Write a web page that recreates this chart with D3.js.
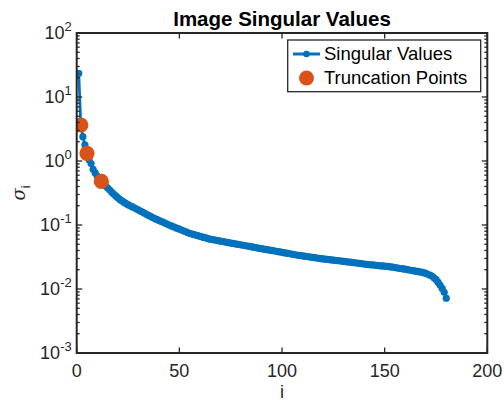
<!DOCTYPE html>
<html><head><meta charset="utf-8">
<script src="https://cdn.jsdelivr.net/npm/d3@7/dist/d3.min.js"></script>
<style>body{margin:0;background:#fff}svg{display:block}text{font-family:"Liberation Sans",Arial,sans-serif}</style>
</head><body>
<script>
const singularValues = [
23.4, 3.65, 2.4, 1.78, 1.32, 1.05, 0.91, 0.74, 0.65, 0.58,
0.52, 0.48, 0.445, 0.412, 0.382, 0.354, 0.328, 0.305, 0.285, 0.267,
0.251, 0.238, 0.227, 0.217, 0.208, 0.2, 0.193, 0.186, 0.179, 0.172,
0.165, 0.159, 0.153, 0.147, 0.141, 0.136, 0.131, 0.126, 0.122, 0.118,
0.114, 0.111, 0.107, 0.1035, 0.1, 0.097, 0.094, 0.091, 0.0885, 0.086,
0.0835, 0.081, 0.0787, 0.0763, 0.074, 0.0725, 0.071, 0.0695, 0.068, 0.0667,
0.0653, 0.064, 0.0627, 0.0614, 0.06, 0.0592, 0.0584, 0.0576, 0.0568, 0.056,
0.0552, 0.0545, 0.0537, 0.053, 0.0523, 0.0516, 0.0509, 0.0502, 0.0496, 0.049,
0.0483, 0.0477, 0.047, 0.0464, 0.0458, 0.0451, 0.0445, 0.0439, 0.0433, 0.0427,
0.0421, 0.0416, 0.041, 0.0405, 0.04, 0.0395, 0.0389, 0.0384, 0.0379, 0.0374,
0.0369, 0.0364, 0.0359, 0.0354, 0.0349, 0.0345, 0.034, 0.0336, 0.0333, 0.0329,
0.0326, 0.0322, 0.0319, 0.0315, 0.0312, 0.0309, 0.0305, 0.0302, 0.0299, 0.0295,
0.0293, 0.029, 0.0288, 0.0285, 0.0283, 0.0281, 0.0278, 0.0276, 0.0273, 0.0271,
0.0268, 0.0265, 0.0263, 0.026, 0.0258, 0.0255, 0.0253, 0.025, 0.0248, 0.0245,
0.0243, 0.0241, 0.0239, 0.0238, 0.0236, 0.0234, 0.0232, 0.023, 0.0229, 0.0227,
0.0225, 0.0224, 0.0221, 0.0219, 0.0216, 0.0214, 0.0211, 0.0209, 0.0206, 0.0204,
0.0201, 0.0198, 0.0196, 0.0193, 0.019, 0.0188, 0.0185, 0.0183, 0.018, 0.0175,
0.017, 0.0165, 0.0159, 0.015, 0.0141, 0.0128, 0.0115, 0.0102, 0.0089, 0.0072
];
const truncationIdx = [2, 5, 12];
const xTicks = [0, 50, 100, 150, 200];
const yTickExps = [-3, -2, -1, 0, 1, 2];
const legendLabels = ["Singular Values", "Truncation Points"];
const titleText = "Image Singular Values";

const W = 504, H = 403;
const m = {l: 76.7, r: 504 - 487.3, t: 33, b: 403 - 353};
const blue = "#0072BD", orange = "#D95319", axc = "#262626";

const svg = d3.select("body").append("svg").attr("width", W).attr("height", H);
const x = d3.scaleLinear().domain([0, 200]).range([m.l, W - m.r]);
const y = d3.scaleLog().domain([1e-3, 1e2]).range([H - m.b, m.t]);

const data = singularValues.map((v, i) => ({i: i + 1, v}));
const trunc = truncationIdx.map(i => ({i, v: singularValues[i - 1]}));

svg.append("defs").append("clipPath").attr("id", "clip").append("rect")
  .attr("x", m.l).attr("y", m.t).attr("width", W - m.l - m.r).attr("height", H - m.t - m.b);
const g = svg.append("g").attr("clip-path", "url(#clip)");
g.append("path").datum(data)
  .attr("d", d3.line().x(d => x(d.i)).y(d => y(d.v)))
  .attr("fill", "none").attr("stroke", blue).attr("stroke-width", 2.8).attr("stroke-linejoin", "round");
g.selectAll("circle.pt").data(data).join("circle").attr("class", "pt")
  .attr("cx", d => x(d.i)).attr("cy", d => y(d.v)).attr("r", 3.6).attr("fill", blue);
g.selectAll("circle.tr").data(trunc).join("circle").attr("class", "tr")
  .attr("cx", d => x(d.i)).attr("cy", d => y(d.v)).attr("r", 7.6).attr("fill", orange);

const fs = 18;
const axG = svg.append("g");
const ticksG = axG.append("g").attr("stroke", axc).attr("stroke-width", 1.3);
const x0 = m.l, x1 = W - m.r, y0 = H - m.b, y1 = m.t;
const majL = 5.5, minL = 3;
xTicks.forEach(t => {
  const px = x(t);
  ticksG.append("line").attr("x1", px).attr("x2", px).attr("y1", y0).attr("y2", y0 - majL);
  ticksG.append("line").attr("x1", px).attr("x2", px).attr("y1", y1).attr("y2", y1 + majL);
  axG.append("text").attr("x", px).attr("y", y0 + 24).attr("text-anchor", "middle")
    .attr("font-size", fs).attr("fill", axc).text(t);
});
yTickExps.forEach(e => {
  const py = y(Math.pow(10, e));
  ticksG.append("line").attr("x1", x0).attr("x2", x0 + majL).attr("y1", py).attr("y2", py);
  ticksG.append("line").attr("x1", x1).attr("x2", x1 - majL).attr("y1", py).attr("y2", py);
  if (e < 2) {
    for (let k = 2; k <= 9; k++) {
      const pm = y(k * Math.pow(10, e));
      ticksG.append("line").attr("x1", x0).attr("x2", x0 + minL).attr("y1", pm).attr("y2", pm);
      ticksG.append("line").attr("x1", x1).attr("x2", x1 - minL).attr("y1", pm).attr("y2", pm);
    }
  }
  const t = axG.append("text").attr("x", x0 - 5).attr("y", py + 6).attr("text-anchor", "end")
    .attr("font-size", fs).attr("fill", axc);
  t.append("tspan").text("10");
  t.append("tspan").attr("dy", -8).attr("font-size", 13).text(e);
});
axG.append("rect").attr("x", x0).attr("y", y1).attr("width", x1 - x0).attr("height", y0 - y1)
  .attr("fill", "none").attr("stroke", axc).attr("stroke-width", 2);

svg.append("text").attr("x", (x0 + x1) / 2).attr("y", 26).attr("text-anchor", "middle")
  .attr("font-size", 20.5).attr("font-weight", "bold").attr("fill", "#000").text(titleText);
svg.append("text").attr("x", (x0 + x1) / 2).attr("y", 398).attr("text-anchor", "middle")
  .attr("font-size", fs).attr("fill", axc).text("i");
const yl = svg.append("text").attr("transform", `translate(25,${(y0 + y1) / 2}) rotate(-90)`)
  .attr("text-anchor", "middle").attr("font-size", fs).attr("fill", axc);
yl.append("tspan").attr("font-family", "DejaVu Serif").attr("font-style", "italic").text("σ");
yl.append("tspan").attr("dy", 5).attr("font-size", 13).text("i");

const lg = svg.append("g");
lg.append("rect").attr("x", 287.7).attr("y", 40).attr("width", 193).attr("height", 51.7)
  .attr("fill", "#fff").attr("stroke", axc).attr("stroke-width", 1.3);
lg.append("line").attr("x1", 293).attr("x2", 320).attr("y1", 54).attr("y2", 54)
  .attr("stroke", blue).attr("stroke-width", 3);
lg.append("circle").attr("cx", 306.5).attr("cy", 54).attr("r", 3.3).attr("fill", blue);
lg.append("circle").attr("cx", 306.5).attr("cy", 78).attr("r", 7.5).attr("fill", orange);
legendLabels.forEach((s, k) => {
  lg.append("text").attr("x", 324).attr("y", 60 + k * 24).attr("font-size", 18.5).attr("fill", "#000").text(s);
});
</script>
</body></html>
